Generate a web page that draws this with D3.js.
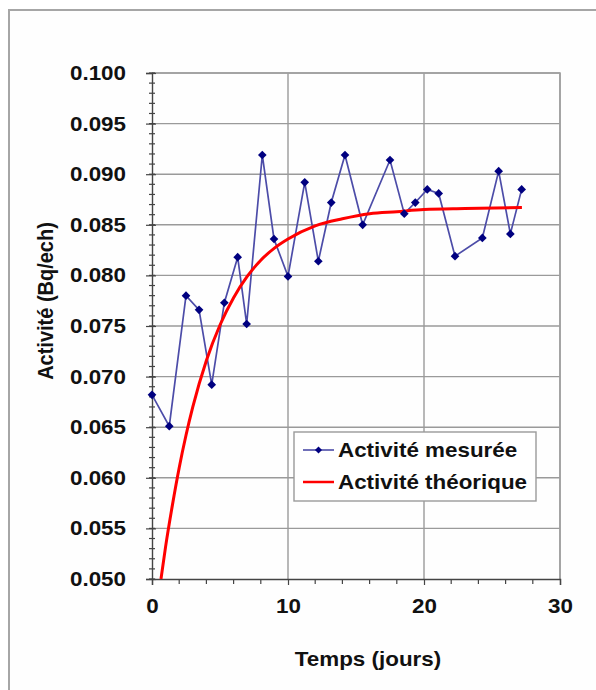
<!DOCTYPE html>
<html>
<head>
<meta charset="utf-8">
<script src="https://cdn.jsdelivr.net/npm/d3@7"></script>
<style>
  html, body { margin: 0; padding: 0; background: #ffffff; }
  svg { display: block; }
  text { font-family: "Liberation Sans", Arial, sans-serif; font-weight: bold; fill: #111; }
</style>
</head>
<body>
<svg id="chart" width="596" height="690"></svg>
<script>
// Measured activity (days, Bq/ech)
const measuredDays = [0, 1.27, 2.5, 3.46, 4.39, 5.32, 6.3, 6.96, 8.11, 8.97, 10.0, 11.23, 12.23,
  13.18, 14.19, 15.49, 17.5, 18.55, 19.36, 20.24, 21.08, 22.28, 24.29, 25.49, 26.35, 27.18];
const measuredActivity = [0.0682, 0.0651, 0.0780, 0.0766, 0.0692, 0.0773, 0.0818, 0.0752, 0.0919,
  0.0836, 0.0799, 0.0892, 0.0814, 0.0872, 0.0919, 0.0850, 0.0914, 0.0861, 0.0872, 0.0885,
  0.0881, 0.0819, 0.0837, 0.0903, 0.0841, 0.0885];

// Theoretical ingrowth curve (days, Bq/ech)
const theoryDays = [0.66, 1, 1.5, 2, 2.5, 3, 4, 5, 6, 7, 8, 9, 10, 12, 14, 16, 18, 20, 23, 27.2];
const theoryActivity = [0.0500, 0.0532, 0.0573, 0.0610, 0.0642, 0.0670, 0.0716, 0.0751, 0.0778,
  0.0799, 0.0815, 0.0827, 0.0836, 0.0849, 0.0856, 0.0861, 0.0863, 0.0865, 0.0866, 0.0867];

// Axis ticks
const xTicks = [0, 10, 20, 30];
const xMinorTicks = [2, 4, 6, 8, 12, 14, 16, 18, 22, 24, 26, 28];
const yTicks = [0.050, 0.055, 0.060, 0.065, 0.070, 0.075, 0.080, 0.085, 0.090, 0.095, 0.100];

const legendLabels = ["Activité mesurée", "Activité théorique"];
const xTitle = "Temps (jours)";
const yTitle = "Activité (Bq/ech)";

const svg = d3.select("#chart");
const plotLeft = 152, plotRight = 560, plotTop = 73, plotBottom = 579;
const stretch = 1.12;   // wide bold lettering
const fontSize = 20;

const x = d3.scaleLinear().domain([0, 30]).range([plotLeft, plotRight]);
const y = d3.scaleLinear().domain([0.05, 0.1]).range([plotBottom, plotTop]);

// widen text horizontally around its anchor point
function widen(sel) {
  sel.each(function () {
    const t = d3.select(this);
    const tx = +t.attr("x") || 0;
    const ty = +t.attr("y") || 0;
    t.attr("x", 0).attr("y", 0)
      .attr("transform", `translate(${tx},${ty}) scale(${stretch},1)`);
  });
}

// outer frame
svg.append("rect").attr("x", 9).attr("y", 10).attr("width", 620).attr("height", 720)
  .attr("fill", "#fefefe").attr("stroke", "#a6a6a6").attr("stroke-width", 2);

// gridlines
const gridColor = "#9a9a9a";
svg.append("g").selectAll("line").data(yTicks.slice(1)).join("line")
  .attr("x1", plotLeft).attr("x2", plotRight)
  .attr("y1", d => y(d)).attr("y2", d => y(d))
  .attr("stroke", gridColor).attr("stroke-width", 1.4);
svg.append("g").selectAll("line").data(xTicks.slice(1)).join("line")
  .attr("y1", plotTop).attr("y2", plotBottom)
  .attr("x1", d => x(d)).attr("x2", d => x(d))
  .attr("stroke", gridColor).attr("stroke-width", 1.4);

// plot border (top and right)
svg.append("path")
  .attr("d", `M${plotLeft},${plotTop}H${plotRight}V${plotBottom}`)
  .attr("fill", "none").attr("stroke", "#a0a0a0").attr("stroke-width", 1.6);

// Y axis with minor ticks
const yMinor = d3.range(50, 101).map(v => v / 1000);
svg.append("g").selectAll("line").data(yMinor).join("line")
  .attr("x1", plotLeft - 3).attr("x2", plotLeft + 3)
  .attr("y1", d => y(d)).attr("y2", d => y(d))
  .attr("stroke", "#444").attr("stroke-width", 1.2);
const yAxisG = svg.append("g").attr("transform", `translate(${plotLeft},0)`)
  .call(d3.axisLeft(y).tickValues(yTicks).tickFormat(d3.format(".3f")).tickSize(6).tickPadding(20));
yAxisG.select(".domain").attr("stroke", "#444").attr("stroke-width", 1.4);
yAxisG.selectAll(".tick line").attr("stroke", "#444").attr("stroke-width", 1.2).attr("x1", 4);
yAxisG.selectAll(".tick text").attr("font-size", fontSize).attr("font-family", "Liberation Sans, Arial, sans-serif")
  .attr("font-weight", "bold").attr("fill", "#111").call(widen);

// X axis with minor ticks
svg.append("g").selectAll("line").data(xMinorTicks).join("line")
  .attr("x1", d => x(d)).attr("x2", d => x(d)).attr("y1", plotBottom).attr("y2", plotBottom + 5)
  .attr("stroke", "#444").attr("stroke-width", 1.2);
const xAxisG = svg.append("g").attr("transform", `translate(0,${plotBottom})`)
  .call(d3.axisBottom(x).tickValues(xTicks).tickFormat(d3.format("d")).tickSize(6).tickPadding(14));
xAxisG.select(".domain").attr("stroke", "#444").attr("stroke-width", 1.4);
xAxisG.selectAll(".tick line").attr("stroke", "#444").attr("stroke-width", 1.2);
xAxisG.selectAll(".tick text").attr("font-size", fontSize).attr("font-family", "Liberation Sans, Arial, sans-serif")
  .attr("font-weight", "bold").attr("fill", "#111").call(widen);

// clip
svg.append("clipPath").attr("id", "plotClip").append("rect")
  .attr("x", plotLeft).attr("y", plotTop).attr("width", plotRight - plotLeft).attr("height", plotBottom - plotTop);

const plot = svg.append("g").attr("clip-path", "url(#plotClip)");

// measured series
const measured = measuredDays.map((d, i) => [d, measuredActivity[i]]);
plot.append("path").datum(measured)
  .attr("d", d3.line().x(d => x(d[0])).y(d => y(d[1])))
  .attr("fill", "none").attr("stroke", "#4c4ca8").attr("stroke-width", 1.7);

const diamond = d3.symbol().type(d3.symbolDiamond2).size(48);
svg.append("g").selectAll("path").data(measured).join("path")
  .attr("transform", d => `translate(${x(d[0])},${y(d[1])})`)
  .attr("d", diamond).attr("fill", "#000080");

// theoretical curve
const theory = theoryDays.map((d, i) => [d, theoryActivity[i]]);
plot.append("path").datum(theory)
  .attr("d", d3.line().curve(d3.curveMonotoneX).x(d => x(d[0])).y(d => y(d[1])))
  .attr("fill", "none").attr("stroke", "#ff0000").attr("stroke-width", 3);

// legend
const lg = svg.append("g");
lg.append("rect").attr("x", 294).attr("y", 432).attr("width", 242).attr("height", 69)
  .attr("fill", "#ffffff").attr("stroke", "#9a9a9a").attr("stroke-width", 1.4);
const legendY = [450, 482];
lg.append("line").attr("x1", 303).attr("x2", 334).attr("y1", legendY[0]).attr("y2", legendY[0])
  .attr("stroke", "#4c4ca8").attr("stroke-width", 1.6);
lg.append("path").attr("transform", `translate(318.5,${legendY[0]})`)
  .attr("d", d3.symbol().type(d3.symbolDiamond2).size(32)).attr("fill", "#000080");
lg.append("line").attr("x1", 303).attr("x2", 334).attr("y1", legendY[1]).attr("y2", legendY[1])
  .attr("stroke", "#ff0000").attr("stroke-width", 2.5);
lg.selectAll("text").data(legendLabels).join("text")
  .attr("x", 338).attr("y", (d, i) => legendY[i] + 7)
  .attr("font-size", fontSize).text(d => d).call(widen);

// axis titles
svg.append("text").attr("x", 368).attr("y", 666).attr("text-anchor", "middle")
  .attr("font-size", fontSize).text(xTitle).call(widen);
svg.append("text").attr("transform", `translate(53,301) scale(${stretch},1) rotate(-90)`)
  .attr("text-anchor", "middle")
  .attr("font-size", fontSize).text(yTitle);
</script>
</body>
</html>
